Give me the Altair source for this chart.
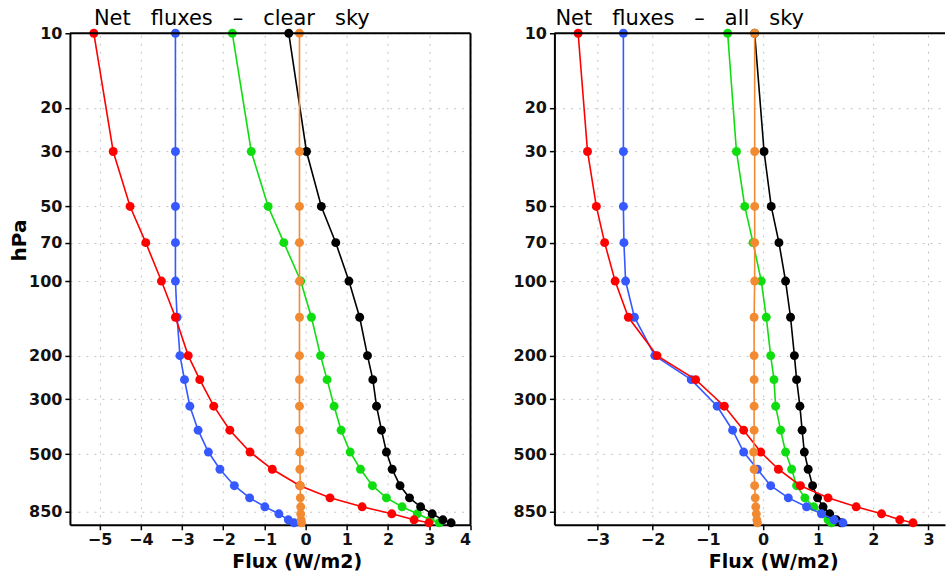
import altair as alt
import pandas as pd

# pressure levels (hPa) of the plotted points
levels = [10, 30, 50, 70, 100, 140, 200, 250, 320, 400, 490, 575, 670, 750, 815, 870, 920, 946]

# Net fluxes - clear sky (W/m2)
clear_red = [-5.14, -4.67, -4.26, -3.88, -3.50, -3.16, -2.85, -2.57, -2.23, -1.84, -1.35, -0.81, -0.14, 0.59, 1.37, 2.09, 2.63, 2.99]
clear_blue = [-3.16, -3.16, -3.16, -3.16, -3.16, -3.12, -3.05, -2.94, -2.81, -2.61, -2.36, -2.08, -1.73, -1.36, -0.99, -0.65, -0.42, -0.28]
clear_green = [-1.78, -1.32, -0.91, -0.53, -0.12, 0.14, 0.36, 0.52, 0.69, 0.86, 1.08, 1.33, 1.62, 1.96, 2.34, 2.71, 3.02, 3.24]
clear_black = [-0.41, 0.02, 0.38, 0.73, 1.05, 1.31, 1.50, 1.63, 1.72, 1.84, 1.96, 2.10, 2.29, 2.52, 2.79, 3.07, 3.33, 3.53]
clear_orange = [-0.15, -0.15, -0.15, -0.15, -0.15, -0.15, -0.15, -0.15, -0.15, -0.15, -0.14, -0.14, -0.13, -0.13, -0.12, -0.12, -0.11, -0.10]

# Net fluxes - all sky (W/m2)
all_red = [-3.35, -3.18, -3.02, -2.87, -2.68, -2.44, -1.92, -1.22, -0.70, -0.35, -0.04, 0.28, 0.68, 1.18, 1.69, 2.15, 2.48, 2.72]
all_blue = [-2.53, -2.53, -2.53, -2.52, -2.49, -2.33, -1.96, -1.30, -0.83, -0.55, -0.35, -0.10, 0.14, 0.46, 0.79, 1.06, 1.29, 1.45]
all_green = [-0.64, -0.48, -0.33, -0.18, -0.03, 0.06, 0.14, 0.20, 0.23, 0.32, 0.41, 0.52, 0.61, 0.76, 0.92, 1.09, 1.18, 1.24]
all_black = [-0.15, 0.02, 0.15, 0.29, 0.41, 0.50, 0.57, 0.61, 0.67, 0.71, 0.75, 0.82, 0.90, 0.99, 1.09, 1.21, 1.33, 1.42]
all_orange = [-0.15, -0.15, -0.15, -0.15, -0.15, -0.16, -0.16, -0.16, -0.16, -0.16, -0.17, -0.16, -0.15, -0.14, -0.13, -0.12, -0.11, -0.10]

y_ticks = [10, 20, 30, 50, 70, 100, 200, 300, 500, 850]
clear_x_ticks = [-5, -4, -3, -2, -1, 0, 1, 2, 3, 4]
all_x_ticks = [-3, -2, -1, 0, 1, 2, 3]

colors = {"red": "#ff0000", "blue": "#3558ff", "green": "#10dd10", "black": "#000000", "orange": "#f28a32"}
draw_order = ["green", "black", "blue", "red", "orange"]

PLOT_H = 492
FONT = "DejaVu Sans"


def make_df(series):
    rows = []
    for name, vals in series.items():
        for p, v in zip(levels, vals):
            rows.append({"series": name, "p": p, "flux": v})
    return pd.DataFrame(rows)


def panel(df, xdomain, xticks, width, title, title_dx, ytitle, right_border, xtitle_x):
    x = alt.X(
        "flux:Q",
        scale=alt.Scale(domain=xdomain, nice=False, zero=False),
        axis=alt.Axis(
            values=xticks, format="d", title="Flux (W/m2)",
            titleFont=FONT, titleFontSize=19, titleFontWeight="bold", titleColor="black",
            titleX=xtitle_x, titleY=43, titleBaseline="alphabetic", titleAlign="center",
            labelFont=FONT, labelFontSize=16, labelFontWeight="bold", labelColor="#111111",
            labelPadding=2, tickSize=5, tickWidth=1.5, tickColor="black",
            domainColor="black", domainWidth=2,
            grid=True, gridColor="#c4c4c4", gridDash=[2, 6], gridWidth=1,
        ),
    )
    yaxis_kwargs = dict(
        values=y_ticks, format="d",
        labelFont=FONT, labelFontSize=16, labelFontWeight="bold", labelColor="#111111",
        labelPadding=3, tickSize=5, tickWidth=1.5, tickColor="black",
        domainColor="black", domainWidth=2,
        grid=True, gridColor="#c4c4c4", gridDash=[2, 6], gridWidth=1,
    )
    if ytitle:
        yaxis_kwargs.update(
            title=ytitle, titleFont=FONT, titleFontSize=20, titleFontWeight="bold",
            titleColor="black", titleX=-44, titleY=207, titleBaseline="alphabetic",
            titleAlign="center", titleAngle=270,
        )
    else:
        yaxis_kwargs.update(title=None)
    y = alt.Y(
        "p:Q",
        scale=alt.Scale(type="log", domain=[10, 963], reverse=True, nice=False, zero=False),
        axis=alt.Axis(**yaxis_kwargs),
    )
    layers = []
    for name in draw_order:
        sub = df[df["series"] == name]
        base = alt.Chart(sub).encode(x=x, y=y, order=alt.Order("p:Q"))
        layers.append(base.mark_line(color=colors[name], strokeWidth=1.6))
        layers.append(base.mark_circle(color=colors[name], size=80, opacity=1))
    one = alt.Data(values=[{"k": 1}])
    layers.append(
        alt.Chart(one).mark_rule(color="black", strokeWidth=2).encode(
            x=alt.value(0), x2=alt.value(width), y=alt.value(0))
    )
    if right_border:
        layers.append(
            alt.Chart(one).mark_rule(color="black", strokeWidth=2).encode(
                x=alt.value(width), y=alt.value(0), y2=alt.value(PLOT_H))
        )
    return alt.layer(*layers).properties(
        width=width, height=PLOT_H,
        title=alt.TitleParams(
            text=title, anchor="start", frame="group", dx=title_dx, offset=-21,
            baseline="alphabetic", font=FONT, fontSize=21, fontWeight="normal", color="black",
        ),
    )


nb = "\u00a0\u00a0\u00a0"
clear_df = make_df({"red": clear_red, "blue": clear_blue, "green": clear_green,
                    "black": clear_black, "orange": clear_orange})
all_df = make_df({"red": all_red, "blue": all_blue, "green": all_green,
                  "black": all_black, "orange": all_orange})

left = panel(clear_df, [-5.72, 4.0], clear_x_ticks, 401,
             "Net" + nb + "fluxes" + nb + "\u2013" + nb + "clear" + nb + "sky", 24, "hPa", True, 227)
right = panel(all_df, [-3.78, 3.30], all_x_ticks, 391,
              "Net" + nb + "fluxes" + nb + "\u2013" + nb + "all" + nb + "sky", 1, None, False, 219)

chart = alt.hconcat(left, right, spacing=41).properties(
    padding={"left": 10, "top": 8, "right": 0, "bottom": 0},
    background="white",
).configure_view(stroke=None)

chart.save("out.html", embed_options={"renderer": "svg", "actions": False})
